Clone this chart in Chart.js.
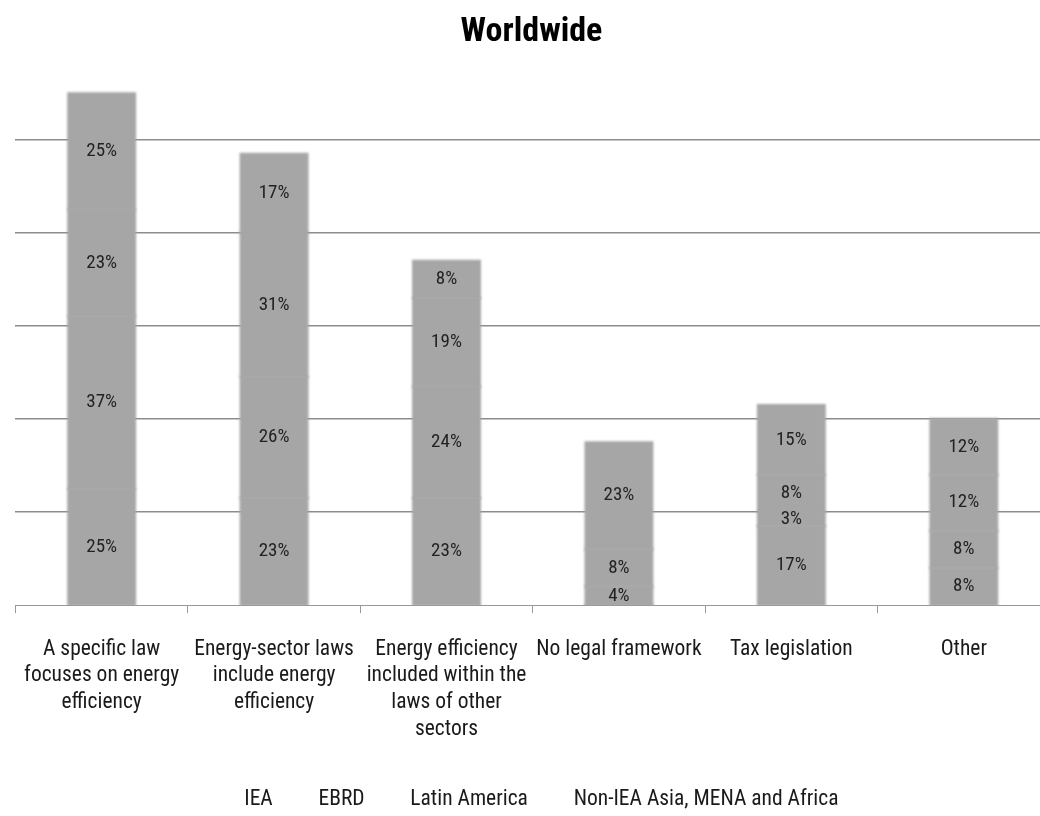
<!DOCTYPE html>
<html>
<head>
<meta charset="utf-8">
<script src="https://cdn.jsdelivr.net/npm/chart.js@4"></script>
<style>
  html, body { margin: 0; padding: 0; overflow: hidden; background: #fff; }
  #wrap { width: 1058px; height: 816px; position: relative; }
</style>
</head>
<body>
<div id="wrap"><canvas id="chart"></canvas></div>
<script>
// Legal framework types (x categories)
const categories = [
  ["A specific law", "focuses on energy", "efficiency"],
  ["Energy-sector laws", "include energy", "efficiency"],
  ["Energy efficiency", "included within the", "laws of other", "sectors"],
  "No legal framework",
  "Tax legislation",
  "Other"
];

// Share of countries per region group (%)
const iea          = [25, 23, 23, 0, 17, 8];
const ebrd         = [37, 26, 24, 4, 3, 8];
const latinAmerica = [23, 31, 19, 8, 8, 12];
const nonIeaAsia   = [25, 17, 8, 23, 15, 12];

const seriesNames = ["IEA", "EBRD", "Latin America", "Non-IEA Asia, MENA and Africa"];
const gridValues = [20, 40, 60, 80, 100];

const FONT = '"Roboto Condensed", "Liberation Sans", sans-serif';
const BAR_GREY = '#a6a6a6';

// Soft-edged bar segments
const softBars = {
  id: 'softBars',
  beforeDatasetDraw(chart) {
    chart.ctx.save();
    chart.ctx.filter = 'blur(1.3px)';
  },
  afterDatasetDraw(chart) {
    chart.ctx.restore();
  }
};

// Percentage label centred in each segment
const segmentLabels = {
  id: 'segmentLabels',
  afterDatasetsDraw(chart) {
    const ctx = chart.ctx;
    ctx.save();
    ctx.font = '19px ' + FONT;
    ctx.fillStyle = '#222';
    ctx.textAlign = 'center';
    ctx.textBaseline = 'middle';
    chart.data.datasets.forEach((ds, i) => {
      chart.getDatasetMeta(i).data.forEach((bar, j) => {
        const v = ds.data[j];
        if (!v) return;
        ctx.fillText(v + '%', bar.x, (bar.y + bar.base) / 2);
      });
    });
    ctx.restore();
  }
};

// Nudge the legend row a little left and down
const legendShift = {
  id: 'legendShift',
  afterLayout(chart) {
    const lg = chart.legend;
    if (lg) {
      lg.left -= 10;
      lg.right -= 10;
      lg.top += 4;
      lg.bottom += 4;
    }
  }
};

const seriesData = [iea, ebrd, latinAmerica, nonIeaAsia];

new Chart(document.getElementById('chart'), {
  type: 'bar',
  data: {
    labels: categories,
    datasets: seriesNames.map((name, i) => ({
      label: name,
      data: seriesData[i],
      backgroundColor: BAR_GREY,
      borderWidth: 0,
      inflateAmount: 1,
      barPercentage: 0.388,
      categoryPercentage: 1.0
    }))
  },
  options: {
    responsive: true,
    maintainAspectRatio: false,
    animation: false,
    layout: { padding: { left: 13, right: 8, bottom: 0 } },
    scales: {
      x: {
        stacked: true,
        afterFit(scale) { scale.height += 13; },
        grid: {
          offset: true,
          drawOnChartArea: false,
          drawTicks: true,
          tickLength: 8,
          color: '#999'
        },
        border: { display: true, color: '#999' },
        ticks: {
          autoSkip: false,
          maxRotation: 0,
          padding: 23,
          color: '#1a1a1a',
          font: { family: FONT, size: 21.5, lineHeight: '26.6px' }
        }
      },
      y: {
        stacked: true,
        min: 0,
        max: 118,
        z: 1,
        afterBuildTicks(scale) {
          scale.ticks = gridValues.map(v => ({ value: v }));
        },
        ticks: { display: false },
        border: { display: false },
        grid: {
          drawTicks: false,
          color: 'rgba(0,0,0,0.45)',
          lineWidth: 1.5
        }
      }
    },
    plugins: {
      title: {
        display: true,
        text: 'Worldwide',
        color: '#000',
        font: { family: FONT, size: 34, weight: 'bold', lineHeight: 1.0 },
        padding: { top: 15, bottom: 7 }
      },
      legend: {
        position: 'bottom',
        labels: {
          color: '#1a1a1a',
          font: { family: FONT, size: 21.5 },
          boxWidth: 29,
          padding: 6,
          generateLabels(chart) {
            return chart.data.datasets.map((ds, i) => ({
              text: ds.label,
              fillStyle: 'rgba(0,0,0,0)',
              strokeStyle: 'rgba(0,0,0,0)',
              lineWidth: 0,
              fontColor: '#1a1a1a',
              datasetIndex: i,
              hidden: !chart.isDatasetVisible(i)
            }));
          }
        }
      },
      tooltip: { enabled: false }
    }
  },
  plugins: [softBars, segmentLabels, legendShift]
});
</script>
</body>
</html>
